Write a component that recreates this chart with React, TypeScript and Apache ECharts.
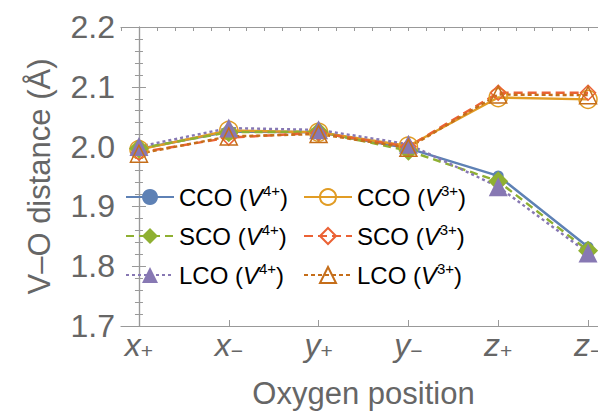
import React, { useEffect, useRef } from "react";
import * as echarts from "echarts";

const positionLetters = ["x", "x", "y", "y", "z", "z"];
const positionSigns = ["+", "−", "+", "−", "+", "−"];
const positionIndex = [0, 1, 2, 3, 4, 5];

const ccoV4 = [1.996, 2.025, 2.024, 1.997, 1.951, 1.832];
const ccoV3 = [1.995, 2.027, 2.024, 2.001, 2.082, 2.079];
const scoV4 = [1.997, 2.024, 2.025, 1.993, 1.942, 1.826];
const scoV3 = [1.990, 2.015, 2.023, 2.000, 2.090, 2.090];
const lcoV4 = [2.000, 2.031, 2.028, 2.004, 1.933, 1.822];
const lcoV3 = [1.988, 2.017, 2.021, 1.998, 2.087, 2.086];

const yTicks = { min: 1.7, max: 2.2, step: 0.1 };

const FONT = "Liberation Sans, Arial, sans-serif";

const legendText: Record<string, string> = {
  "CCO4": "CCO ({i|V}{sup|4+})",
  "CCO3": "CCO ({i|V}{sup|3+})",
  "SCO4": "SCO ({i|V}{sup|4+})",
  "SCO3": "SCO ({i|V}{sup|3+})",
  "LCO4": "LCO ({i|V}{sup|4+})",
  "LCO3": "LCO ({i|V}{sup|3+})",
};

function pts(vals: number[]) {
  return vals.map((v, i) => [positionIndex[i], v]);
}

const legendRich = {
  i: { fontStyle: "italic", fontSize: 24, fontFamily: FONT, color: "#000", lineHeight: 28 },
  sup: { fontSize: 15, fontFamily: FONT, color: "#000", verticalAlign: "top", lineHeight: 20 },
};

export default function App() {
  const ref = useRef<HTMLDivElement>(null);
  useEffect(() => {
    if (!ref.current) return;
    const chart = echarts.init(ref.current, null, { renderer: "svg" });
    const mk = (
      name: string,
      vals: number[],
      color: string,
      symbol: string,
      size: number,
      type: any,
      hollow: boolean
    ) => ({
      name,
      type: "line",
      data: pts(vals),
      symbol,
      symbolSize: size,
      showSymbol: true,
      lineStyle: { color, width: 2.4, type },
      itemStyle: hollow
        ? { color: "rgba(255,255,255,0)", borderColor: color, borderWidth: 1.5 }
        : { color, borderWidth: 0 },
      emphasis: { disabled: true },
    });
    const legendBase = {
      orient: "vertical",
      itemWidth: 48,
      itemHeight: 20,
      itemGap: 11,
      padding: 0,
      top: 175,
      formatter: (n: string) => legendText[n],
      textStyle: {
        fontSize: 24,
        fontFamily: FONT,
        color: "#000",
        lineHeight: 28,
        rich: legendRich,
      },
    };
    chart.setOption({
      animation: false,
      grid: { left: 113, right: 8, top: 19, bottom: 94 },
      legend: [
        { ...legendBase, left: 117, data: ["CCO4", "SCO4", "LCO4"] },
        { ...legendBase, left: 295, data: ["CCO3", "SCO3", "LCO3"] },
      ],
      xAxis: [
        {
          type: "value",
          min: -0.2,
          max: 5.2,
          position: "bottom",
          name: "Oxygen position",
          nameLocation: "middle",
          nameGap: 52,
          nameTextStyle: { fontSize: 31, fontFamily: FONT, color: "#666" },
          axisLine: { lineStyle: { color: "#999", width: 1.2 } },
          axisTick: { inside: true, length: 6, customValues: positionIndex, lineStyle: { color: "#999" } },
          splitLine: { show: false },
          axisLabel: {
            customValues: positionIndex,
            margin: 3,
            formatter: (v: number) => {
              const i = Math.round(v);
              return `{i|${positionLetters[i]}}{s|${positionSigns[i]}}`;
            },
            rich: {
              i: { fontStyle: "italic", fontSize: 32, fontFamily: FONT, color: "#666", lineHeight: 32, verticalAlign: "top" },
              s: { fontSize: 21, fontFamily: FONT, color: "#666", lineHeight: 20, verticalAlign: "bottom" },
            },
          },
        },
        {
          type: "value",
          min: -0.2,
          max: 5.2,
          interval: 0.2,
          position: "top",
          axisLine: { lineStyle: { color: "#999", width: 1.2 } },
          axisTick: { inside: true, length: 4, lineStyle: { color: "#999" } },
          axisLabel: { show: false },
          splitLine: { show: false },
        },
      ],
      yAxis: [
        {
          type: "value",
          min: yTicks.min,
          max: yTicks.max,
          interval: yTicks.step,
          position: "left",
          name: "V–O distance (Å)",
          nameLocation: "middle",
          nameGap: 66,
          nameTextStyle: { fontSize: 31, fontFamily: FONT, color: "#666" },
          axisLine: { show: true, lineStyle: { color: "#999", width: 1.2 } },
          axisTick: { show: true, inside: true, length: 7, lineStyle: { color: "#999" } },
          minorTick: { show: true, splitNumber: 5, length: 4, lineStyle: { color: "#999" } },
          splitLine: { show: false },
          axisLabel: {
            fontSize: 32,
            fontFamily: FONT,
            color: "#666",
            margin: 6,
            formatter: (v: number) => v.toFixed(1),
          },
        },
        {
          type: "value",
          min: yTicks.min,
          max: yTicks.max,
          interval: yTicks.step,
          position: "right",
          axisLine: { show: true, lineStyle: { color: "#999", width: 1.2 } },
          axisTick: { show: true, inside: true, length: 7, lineStyle: { color: "#999" } },
          minorTick: { show: true, splitNumber: 5, length: 4, lineStyle: { color: "#999" } },
          splitLine: { show: false },
          axisLabel: { show: false },
        },
      ],
      series: [
        mk("CCO4", ccoV4, "#5E81B5", "circle", 11, "solid", false),
        mk("CCO3", ccoV3, "#E19C24", "circle", 18, "solid", true),
        mk("SCO4", scoV4, "#8FB032", "diamond", 20, [8, 5], false),
        mk("SCO3", scoV3, "#EB6235", "diamond", 15, [9, 5], true),
        mk("LCO4", lcoV4, "#8778B3", "triangle", 19, [3, 3], false),
        mk("LCO3", lcoV3, "#C56E1A", "triangle", 17, [4, 3], true),
      ],
    });
    return () => chart.dispose();
  }, []);
  return <div ref={ref} style={{ width: 606, height: 412 }} />;
}
